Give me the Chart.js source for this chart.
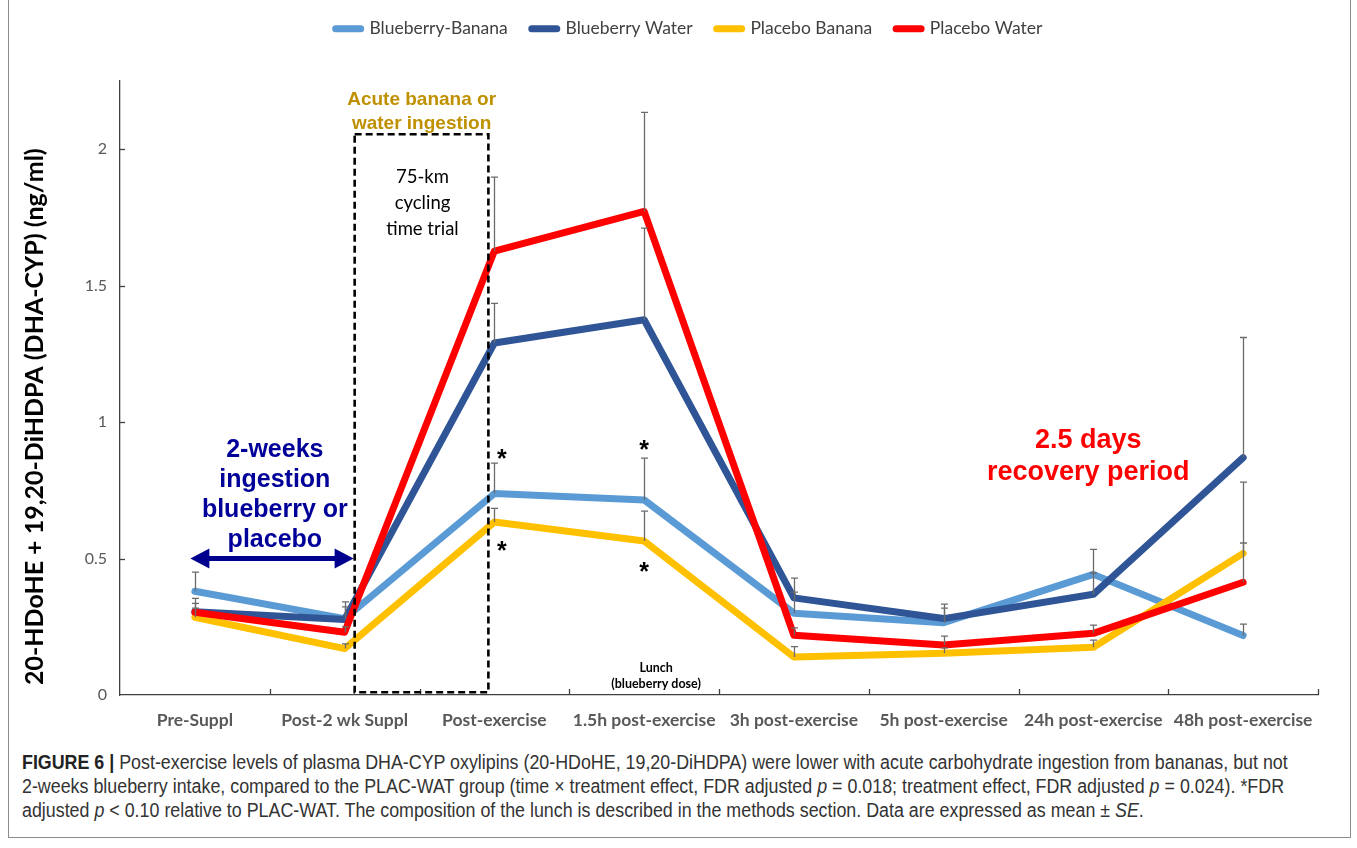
<!DOCTYPE html>
<html>
<head>
<meta charset="utf-8">
<script src="https://cdn.jsdelivr.net/npm/chart.js@4.4.1/dist/chart.umd.min.js"></script>
<style>
  html, body { margin: 0; padding: 0; background: #fff; }
  body { width: 1357px; height: 848px; position: relative; overflow: hidden; }
  #frame { position: absolute; left: 8px; top: -2px; width: 1341px; height: 838px; border: 1px solid #8c8c8c; }
  #chart { position: absolute; left: 0; top: 0; }
  #caption { position: absolute; left: 22px; top: 750px; font-family: "Liberation Sans", Arial, sans-serif;
             font-size: 19.5px; line-height: 24px; color: #333; white-space: nowrap;
             transform: scaleX(0.915); transform-origin: 0 0; }
  #caption b { color: #222; }
</style>
</head>
<body>
<div id="frame"></div>
<canvas id="chart" width="1357" height="742"></canvas>
<div id="caption">
  <div><b>FIGURE 6 |</b> Post-exercise levels of plasma DHA-CYP oxylipins (20-HDoHE, 19,20-DiHDPA) were lower with acute carbohydrate ingestion from bananas, but not</div>
  <div>2-weeks blueberry intake, compared to the PLAC-WAT group (time × treatment effect, FDR adjusted <i>p</i> = 0.018; treatment effect, FDR adjusted <i>p</i> = 0.024). *FDR</div>
  <div>adjusted <i>p</i> &lt; 0.10 relative to PLAC-WAT. The composition of the lunch is described in the methods section. Data are expressed as mean ± <i>SE</i>.</div>
</div>
<script>
// Sampling time points
const categories = ['Pre-Suppl', 'Post-2 wk Suppl', 'Post-exercise', '1.5h post-exercise',
                    '3h post-exercise', '5h post-exercise', '24h post-exercise', '48h post-exercise'];

// Group means (ng/ml)
const blueberryBanana = [0.380, 0.280, 0.738, 0.715, 0.300, 0.265, 0.442, 0.218];
const blueberryWater  = [0.305, 0.277, 1.290, 1.375, 0.356, 0.280, 0.369, 0.870];
const placeboBanana   = [0.285, 0.170, 0.634, 0.564, 0.139, 0.153, 0.175, 0.519];
const placeboWater    = [0.303, 0.230, 1.627, 1.772, 0.219, 0.183, 0.226, 0.413];

// Standard errors (plotted upward only)
const blueberryBananaSE = [0.070, 0.043, 0.112, 0.153, 0.077, 0.053, 0.092, 0.042];
const blueberryWaterSE  = [0.049, 0.064, 0.145, 0.336, 0.072, 0.053, 0.078, 0.440];
const placeboBananaSE   = [0.033, 0.017, 0.050, 0.110, 0.038, 0.020, 0.026, 0.261];
const placeboWaterSE    = [0.033, 0.020, 0.271, 0.363, 0.027, 0.033, 0.030, 0.144];

// Value axis
const yTicks = [0, 0.5, 1, 1.5, 2];
const yMax = 2.25;
const yTitle = '20-HDoHE + 19,20-DiHDPA (DHA-CYP) (ng/ml)';

const series = [
  { label: 'Blueberry-Banana', data: blueberryBanana, se: blueberryBananaSE, color: '#5B9BD5', order: 3 },
  { label: 'Blueberry Water',  data: blueberryWater,  se: blueberryWaterSE,  color: '#2F5597', order: 2 },
  { label: 'Placebo Banana',   data: placeboBanana,   se: placeboBananaSE,   color: '#FFC000', order: 1 },
  { label: 'Placebo Water',    data: placeboWater,    se: placeboWaterSE,    color: '#FF0000', order: 0 }
];

// Text notes placed in data coordinates (x = category index, y = value of first line)
const starFont = 'bold 25px "Liberation Sans", Arial, sans-serif';
const notes = [
  { text: ['Acute banana or', 'water ingestion'], x: 1.514, y: 2.183, font: 'bold 19px "Liberation Sans", Arial, sans-serif', color: '#BF9000', lh: 24 },
  { text: ['75-km', 'cycling', 'time trial'], x: 1.52, y: 1.898, font: '18.5px Lato, sans-serif', color: '#000', lh: 26 },
  { text: ['2-weeks', 'ingestion', 'blueberry or', 'placebo'], x: 0.534, y: 0.896, font: 'bold 25px "Liberation Sans", Arial, sans-serif', color: '#000099', lh: 30 },
  { text: ['2.5 days', 'recovery period'], x: 5.966, y: 0.932, font: 'bold 27px "Liberation Sans", Arial, sans-serif', color: '#FF0000', lh: 32 },
  { text: ['Lunch', '(blueberry dose)'], x: 3.08, y: 0.099, font: 'bold 12.5px Lato, sans-serif', color: '#000', lh: 16 },
  { text: ['*'], x: 2.05, y: 0.862, font: starFont, color: '#000', lh: 20 },
  { text: ['*'], x: 2.05, y: 0.522, font: starFont, color: '#000', lh: 20 },
  { text: ['*'], x: 3.0,  y: 0.892, font: starFont, color: '#000', lh: 20 },
  { text: ['*'], x: 3.0,  y: 0.446, font: starFont, color: '#000', lh: 20 }
];

// Exercise window (dashed box) and supplementation arrow, in data coordinates
const trialBox = { x0: 1.067, x1: 1.96, y0: 0.01, y1: 2.055 };
const suppArrow = { x0: -0.03, x1: 1.06, y: 0.50 };

// Legend block: fixed height, nudged right of the plot centre
const legendBox = {
  id: 'legendBox',
  beforeLayout(chart) {
    const lg = chart.legend;
    if (lg && !lg._fixed) {
      const fit = lg.fit;
      lg.fit = function () { fit.call(this); this.height = 81; };
      lg._fixed = true;
    }
  },
  afterLayout(chart) {
    const lg = chart.legend;
    lg.left += 30;
    lg.right += 30;
    lg.top -= 4;
    lg.bottom -= 4;
  }
};

const errorBars = {
  id: 'errorBars',
  afterDatasetsDraw(chart) {
    const { ctx, scales: { y } } = chart;
    ctx.save();
    ctx.strokeStyle = '#6b6b6b';
    ctx.lineWidth = 1.3;
    series.forEach((s, di) => {
      const meta = chart.getDatasetMeta(di);
      meta.data.forEach((pt, i) => {
        const top = y.getPixelForValue(s.data[i] + s.se[i]);
        const x = Math.round(pt.x) + 0.5;
        ctx.beginPath();
        ctx.moveTo(x, pt.y);
        ctx.lineTo(x, top);
        ctx.moveTo(x - 3.5, top);
        ctx.lineTo(x + 3.5, top);
        ctx.stroke();
      });
    });
    ctx.restore();
  }
};

const decorations = {
  id: 'decorations',
  afterDatasetsDraw(chart) {
    const { ctx, scales: { x, y }, chartArea } = chart;
    ctx.save();

    // inward tick marks
    ctx.strokeStyle = '#404040';
    ctx.lineWidth = 1.3;
    yTicks.forEach(v => {
      if (v === 0) return;
      const py = Math.round(y.getPixelForValue(v)) + 0.5;
      ctx.beginPath(); ctx.moveTo(chartArea.left, py); ctx.lineTo(chartArea.left + 5, py); ctx.stroke();
    });
    for (let k = 1; k <= categories.length; k++) {
      const px = Math.round(x.getPixelForValue(k - 0.5)) + 0.5;
      ctx.beginPath(); ctx.moveTo(px, chartArea.bottom); ctx.lineTo(px, chartArea.bottom - 6); ctx.stroke();
    }

    // dashed exercise window
    const bx0 = x.getPixelForValue(trialBox.x0), bx1 = x.getPixelForValue(trialBox.x1);
    const by0 = y.getPixelForValue(trialBox.y0), by1 = y.getPixelForValue(trialBox.y1);
    ctx.strokeStyle = '#000';
    ctx.lineWidth = 2.6;
    ctx.setLineDash([7, 4]);
    ctx.strokeRect(bx0, by1, bx1 - bx0, by0 - by1);
    ctx.setLineDash([]);

    // double-headed arrow
    const ax0 = x.getPixelForValue(suppArrow.x0), ax1 = x.getPixelForValue(suppArrow.x1);
    const ay = y.getPixelForValue(suppArrow.y);
    const head = 19, half = 10;
    ctx.strokeStyle = ctx.fillStyle = '#00008F';
    ctx.lineWidth = 5;
    ctx.beginPath(); ctx.moveTo(ax0 + head - 2, ay); ctx.lineTo(ax1 - head + 2, ay); ctx.stroke();
    ctx.beginPath(); ctx.moveTo(ax0, ay); ctx.lineTo(ax0 + head, ay - half); ctx.lineTo(ax0 + head, ay + half); ctx.closePath(); ctx.fill();
    ctx.beginPath(); ctx.moveTo(ax1, ay); ctx.lineTo(ax1 - head, ay - half); ctx.lineTo(ax1 - head, ay + half); ctx.closePath(); ctx.fill();

    // text notes
    ctx.textAlign = 'center';
    ctx.textBaseline = 'middle';
    notes.forEach(n => {
      ctx.font = n.font;
      ctx.fillStyle = n.color;
      const px = x.getPixelForValue(n.x);
      const py = y.getPixelForValue(n.y);
      n.text.forEach((t, i) => ctx.fillText(t, px, py + i * n.lh));
    });
    ctx.restore();
  },
  afterDraw(chart) {
    const { ctx, scales: { y }, chartArea } = chart;
    ctx.save();
    ctx.translate(chartArea.left - 85, y.getPixelForValue(1.02));
    ctx.rotate(-Math.PI / 2);
    ctx.font = 'bold 25px Lato, sans-serif';
    ctx.fillStyle = '#000';
    ctx.textAlign = 'center';
    ctx.textBaseline = 'middle';
    ctx.fillText(yTitle, 0, 0);
    ctx.restore();
  }
};

new Chart(document.getElementById('chart'), {
  type: 'line',
  data: {
    labels: categories,
    datasets: series.map(s => ({
      label: s.label,
      data: s.data,
      borderColor: s.color,
      backgroundColor: s.color,
      borderWidth: 7,
      borderCapStyle: 'round',
      borderJoinStyle: 'round',
      pointRadius: 0,
      pointStyle: 'line',
      fill: false,
      tension: 0,
      order: s.order
    }))
  },
  options: {
    responsive: false,
    animation: false,
    devicePixelRatio: 1,
    layout: { padding: { left: 0, right: 39, top: 0, bottom: 0 } },
    plugins: {
      tooltip: { enabled: false },
      legend: {
        position: 'top',
        align: 'center',
        labels: {
          usePointStyle: true,
          pointStyle: 'line',
          pointStyleWidth: 25,
          padding: 24,
          color: '#404040',
          font: { family: 'Lato, sans-serif', size: 17.5 },
          sort: (a, b) => a.datasetIndex - b.datasetIndex,
          generateLabels(chart) {
            return Chart.defaults.plugins.legend.labels.generateLabels(chart)
              .map(item => Object.assign(item, { lineWidth: 7, lineCap: 'round' }));
          }
        }
      }
    },
    scales: {
      x: {
        offset: true,
        grid: { display: false, drawTicks: false },
        border: { display: true, color: '#404040', width: 1.3 },
        ticks: { color: '#595959', font: { family: 'Lato, sans-serif', weight: 'bold', size: 17.5 }, padding: 15, maxRotation: 0, autoSkip: false },
        afterFit(s) { s.height = 47; }
      },
      y: {
        min: 0,
        max: yMax,
        grid: { display: false, drawTicks: false },
        border: { display: true, color: '#404040', width: 1.3 },
        ticks: { color: '#595959', font: { family: 'Lato, sans-serif', size: 16 }, padding: 13, callback: v => String(v) },
        afterBuildTicks(s) { s.ticks = yTicks.map(v => ({ value: v })); },
        afterFit(s) { s.width = 120; }
      }
    }
  },
  plugins: [legendBox, errorBars, decorations]
});
</script>
</body>
</html>
